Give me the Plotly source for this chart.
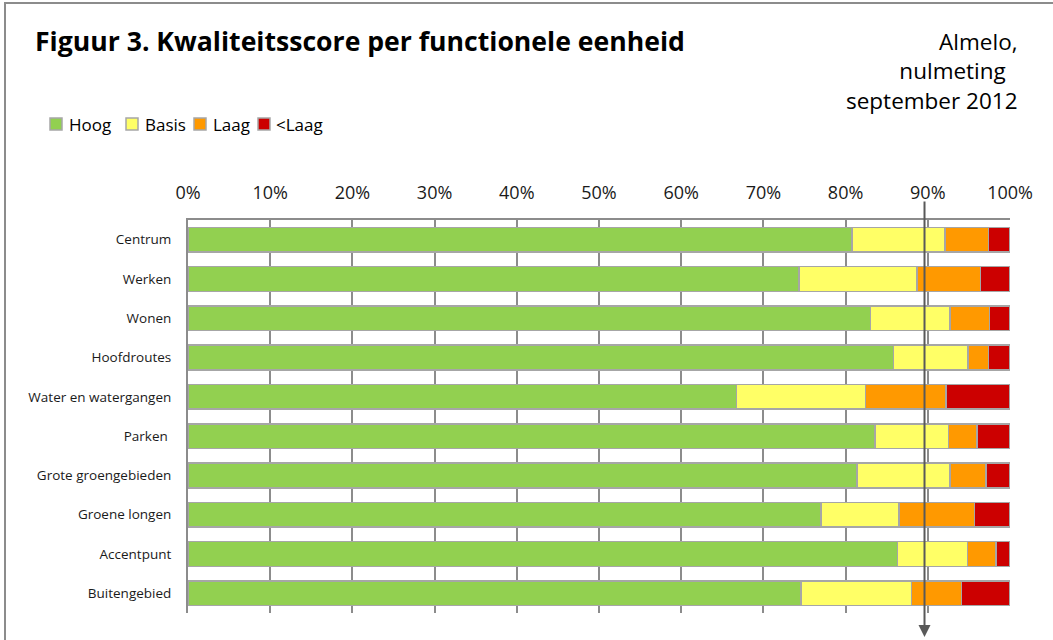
import plotly.graph_objects as go

categories = ["Centrum", "Werken", "Wonen", "Hoofdroutes", "Water en watergangen",
              "Parken ", "Grote groengebieden", "Groene longen", "Accentpunt", "Buitengebied"]
hoog = [80.8, 74.3, 83.0, 85.8, 66.7, 83.6, 81.4, 77.0, 86.3, 74.6]
basis = [11.3, 14.4, 9.7, 9.1, 15.7, 8.9, 11.3, 9.5, 8.5, 13.4]
laag = [5.3, 7.7, 4.8, 2.5, 9.8, 3.5, 4.4, 9.2, 3.5, 6.1]
onder_laag = [2.6, 3.6, 2.5, 2.6, 7.8, 4.0, 2.9, 4.3, 1.7, 5.9]
series_names = ["Hoog", "Basis", "Laag", "<Laag"]
series_colors = ["#92D050", "#FFFF66", "#FF9900", "#CC0000"]
norm_value = 89.6
tick_vals = list(range(0, 101, 10))
tick_text = [f"{v}%" for v in tick_vals]

FONT = "'Open Sans', sans-serif"
W, H = 1053, 640
L, R, T, B = 188, 43, 220, 27
PW, PH = W - L - R, H - T - B


def px_x(x):
    return (x - L) / PW


def px_y(y):
    return 1 - (y - T) / PH


fig = go.Figure()
for name, vals, col in zip(series_names, [hoog, basis, laag, onder_laag], series_colors):
    fig.add_trace(go.Bar(
        y=categories, x=vals, name=name, orientation="h",
        marker=dict(color=col, line=dict(color="#A6A6A6", width=1.5)),
    ))

fig.update_layout(
    width=W, height=H,
    barmode="stack", bargap=0.37,
    paper_bgcolor="white", plot_bgcolor="white",
    margin=dict(l=L, r=R, t=T, b=B),
    font=dict(family=FONT, color="#1a1a1a"),
    showlegend=False,
    xaxis=dict(side="top", range=[0, 100], tickvals=tick_vals, ticktext=tick_text,
               showgrid=True, gridcolor="#8C8C8C", gridwidth=2,
               showline=True, linecolor="#8C8C8C", linewidth=2,
               zeroline=False, ticks="", tickfont=dict(size=18, family=FONT, color="#1a1a1a"),
               ticklabelstandoff=12, fixedrange=True),
    yaxis=dict(autorange="reversed", showline=True, linecolor="#8C8C8C", linewidth=2,
               showgrid=False, ticks="", tickfont=dict(size=13.5, family=FONT, color="#1a1a1a"),
               ticklabelstandoff=12, fixedrange=True),
    title=dict(text="<b>Figuur 3. Kwaliteitsscore per functionele eenheid</b>",
               x=35 / W, xanchor="left", y=1 - 42 / H, yanchor="middle",
               font=dict(size=26.6, family=FONT, color="#000000")),
)

# outer frame (partially visible)
fig.add_shape(type="rect", xref="paper", yref="paper",
              x0=px_x(5), x1=px_x(1200), y0=px_y(800), y1=px_y(3),
              line=dict(color="#8C8C8C", width=2), fillcolor="rgba(0,0,0,0)")

# manual legend
legend_sq_x = [50, 126, 194, 258]
legend_txt_x = [67, 143, 211, 274]
leg_y = 124
for name, col, sx, tx in zip(series_names, series_colors, legend_sq_x, legend_txt_x):
    fig.add_shape(type="rect", xref="paper", yref="paper",
                  x0=px_x(sx), x1=px_x(sx + 12), y0=px_y(leg_y + 6), y1=px_y(leg_y - 6),
                  line=dict(color="#A6A6A6", width=1.5), fillcolor=col)
    fig.add_annotation(text=name, xref="paper", yref="paper", x=px_x(tx), xanchor="left",
                       y=px_y(leg_y), yanchor="middle", showarrow=False,
                       font=dict(size=17, family=FONT, color="#000000"))

fig.add_annotation(text="Almelo,<br>nulmeting\u00a0\u00a0<br>september 2012", xref="paper", yref="paper",
                   x=px_x(1020), xanchor="right", y=px_y(24), yanchor="top",
                   align="right", showarrow=False,
                   font=dict(size=22.5, family=FONT, color="#000000"))

# norm arrow at 90%
fig.add_annotation(x=norm_value, xref="x", y=px_y(637), yref="paper",
                   ax=0, ay=-437, axref="pixel", ayref="pixel", text="",
                   showarrow=True, arrowhead=2, arrowsize=1.2, arrowwidth=2,
                   arrowcolor="#595959")

fig.write_html("out.html", post_script="document.body.style.margin='0px';",
               config={"displayModeBar": False})
